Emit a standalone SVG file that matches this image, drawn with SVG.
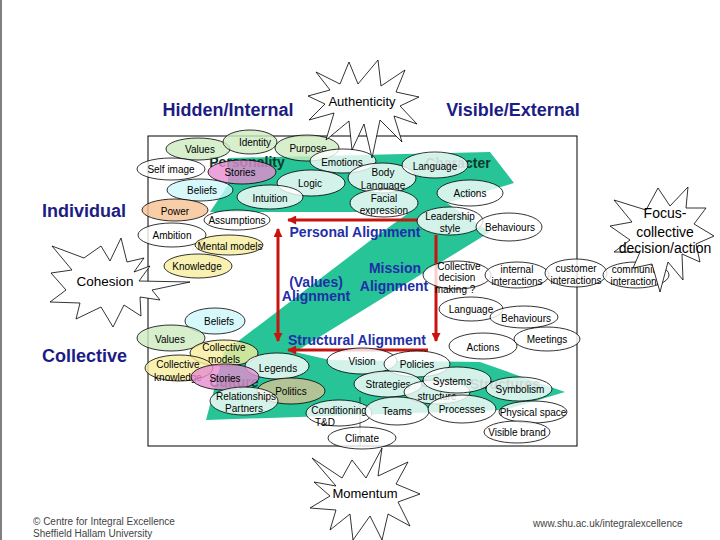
<svg xmlns="http://www.w3.org/2000/svg" width="720" height="540" viewBox="0 0 720 540">
<defs>
<style>
.e{stroke:#000;stroke-width:0.8;fill-opacity:0.8}
.w{fill:#fff}.g{fill:#cdebc0}.p{fill:#e68cd0}.c{fill:#cdf8fb}.o{fill:#f6c294}.y{fill:#f6ee9e}.t{fill:#d6c496}
.l{font-family:"Liberation Sans",Arial,sans-serif;font-size:10px;text-anchor:middle;fill:#000}
.h{font-family:"Liberation Sans",Arial,sans-serif;font-size:18px;font-weight:bold;fill:#1c1c84}
.a{font-family:"Liberation Sans",Arial,sans-serif;font-size:14px;font-weight:bold;fill:#1f2fa8;text-anchor:middle}
.s{fill:#fff;stroke:#000;stroke-width:0.8}
.st{font-family:"Liberation Sans",Arial,sans-serif;font-size:13px;text-anchor:middle;fill:#000}
.gh{font-family:"Liberation Sans",Arial,sans-serif;font-size:14px;font-weight:bold;fill:#0c3a2e;text-anchor:middle}
.red{stroke:#c8140f;stroke-width:3;fill:none}
.ft{font-family:"Liberation Sans",Arial,sans-serif;font-size:10px;fill:#444}
</style>
<marker id="ah" viewBox="0 0 10 10" refX="9" refY="5" markerWidth="3.6" markerHeight="3" orient="auto-start-reverse">
<path d="M0,0 L10,5 L0,10 Z" fill="#c8140f"/>
</marker>
</defs>
<rect width="720" height="540" fill="#fff"/>
<line x1="1" y1="0" x2="1" y2="540" stroke="#000" stroke-width="1"/>

<g id="band">
<polygon fill="#26c497" points="228,158 490,152 514,183 447,203 490,232 295,352 330,360 480,362 565,392 505,410 206,420 224,352 371,240 410,212 210,212 228,185"/>
</g>
<g id="ghost">
<text class="gh" x="247" y="167">Personality</text>
<text class="gh" x="458" y="168">Character</text>
<text class="gh" x="234" y="387">Culture</text>
<text class="gh" x="505" y="389">Structures</text>
</g>

<rect x="148" y="136" width="429" height="310" fill="none" stroke="#000" stroke-width="1"/>
<line x1="360" y1="397" x2="360" y2="446" stroke="#000" stroke-width="0.6"/>

<g id="headings">
<text class="h" x="228" y="116" text-anchor="middle">Hidden/Internal</text>
<text class="h" x="513" y="116" text-anchor="middle">Visible/External</text>
<text class="h" x="42" y="217">Individual</text>
<text class="h" x="42" y="362">Collective</text>
</g>

<g id="connectors">
<line class="red" x1="288" y1="220" x2="418" y2="220" marker-start="url(#ah)"/>
<line class="red" x1="278" y1="229" x2="278" y2="341" marker-start="url(#ah)" marker-end="url(#ah)"/>
<line class="red" x1="436" y1="235" x2="436" y2="341" marker-end="url(#ah)"/>
<line class="red" x1="288" y1="350" x2="428" y2="350" marker-start="url(#ah)"/>
</g>

<g id="alignment">
<text class="a" x="355" y="237">Personal Alignment</text>
<text class="a" x="316" y="287">(Values)</text>
<text class="a" x="316" y="301">Alignment</text>
<text class="a" x="395" y="273">Mission</text>
<text class="a" x="394" y="291">Alignment</text>
<text class="a" x="357" y="345">Structural Alignment</text>
</g>

<g id="n-values"><ellipse class="e g" cx="198" cy="149" rx="32" ry="11"/><text class="l" x="200" y="152.5">Values</text></g>
<g id="n-identity"><ellipse class="e g" cx="250" cy="142" rx="27" ry="12"/><text class="l" x="255" y="145.5">Identity</text></g>
<g id="n-purpose"><ellipse class="e g" cx="307" cy="148" rx="32" ry="13"/><text class="l" x="308" y="151.5">Purpose</text></g>
<g id="n-selfimage"><ellipse class="e w" cx="171" cy="169" rx="34" ry="11"/><text class="l" x="171" y="172.5">Self image</text></g>
<g id="n-stories"><ellipse class="e p" cx="242" cy="172" rx="34" ry="12"/><text class="l" x="240" y="175.5">Stories</text></g>
<g id="n-beliefs"><ellipse class="e c" cx="200" cy="190" rx="33" ry="11"/><text class="l" x="202" y="193.5">Beliefs</text></g>
<g id="n-emotions"><ellipse class="e w" cx="343" cy="161" rx="33" ry="12"/><text class="l" x="342" y="165.5">Emotions</text></g>
<g id="n-logic"><ellipse class="e w" cx="311" cy="183" rx="34" ry="13"/><text class="l" x="310" y="186.5">Logic</text></g>
<g id="n-intuition"><ellipse class="e w" cx="270" cy="197" rx="33" ry="12"/><text class="l" x="270" y="201.5">Intuition</text></g>
<g id="n-power"><ellipse class="e o" cx="175" cy="210" rx="33" ry="11"/><text class="l" x="175" y="214.5">Power</text></g>
<g id="n-assumptions"><ellipse class="e w" cx="237" cy="220" rx="33" ry="10"/><text class="l" x="237" y="223.5">Assumptions</text></g>
<g id="n-ambition"><ellipse class="e w" cx="172" cy="235" rx="34" ry="12"/><text class="l" x="172" y="238.5">Ambition</text></g>
<g id="n-mentalmodels"><ellipse class="e y" cx="229" cy="245" rx="34" ry="10"/><text class="l" x="230" y="249.5">Mental models</text></g>
<g id="n-knowledge"><ellipse class="e y" cx="198" cy="266" rx="34" ry="12"/><text class="l" x="197" y="269.5">Knowledge</text></g>

<g id="n-bodylanguage"><ellipse class="e w" cx="382" cy="178" rx="34" ry="15"/><text class="l" x="383" y="175.5">Body</text><text class="l" x="383" y="188.5">Language</text></g>
<g id="n-facial"><ellipse class="e w" cx="384" cy="203" rx="34" ry="14"/><text class="l" x="384" y="201.5">Facial</text><text class="l" x="384" y="213.5">expression</text></g>
<g id="n-language"><ellipse class="e w" cx="435" cy="165" rx="33" ry="13"/><text class="l" x="435" y="169.5">Language</text></g>
<g id="n-actions"><ellipse class="e w" cx="470" cy="193" rx="33" ry="13"/><text class="l" x="470" y="196.5">Actions</text></g>
<g id="n-leadership"><ellipse class="e w" cx="450" cy="221" rx="33" ry="14"/><text class="l" x="450" y="219.5">Leadership</text><text class="l" x="450" y="231.5">style</text></g>
<g id="n-behaviours"><ellipse class="e w" cx="509" cy="227" rx="33" ry="14"/><text class="l" x="510" y="230.5">Behaviours</text></g>
<g id="n-collectivedecision"><ellipse class="e w" cx="457" cy="275" rx="34" ry="14"/><text class="l" x="459" y="269.5">Collective</text><text class="l" x="457" y="280.5">decision</text><text class="l" x="455" y="292.5">making ?</text></g>
<g id="n-internal"><ellipse class="e w" cx="517" cy="275" rx="32" ry="13"/><text class="l" x="517" y="272.5">internal</text><text class="l" x="517" y="284.5">interactions</text></g>
<g id="n-customer"><ellipse class="e w" cx="576" cy="273" rx="31" ry="14"/><text class="l" x="576" y="271.5">customer</text><text class="l" x="576" y="283.5">interactions</text></g>
<g id="n-community"><ellipse class="e w" cx="636" cy="275" rx="33" ry="13"/><text class="l" x="636" y="272.5">community</text><text class="l" x="636" y="284.5">interactions</text></g>
<g id="n-language2"><ellipse class="e w" cx="471" cy="309" rx="32" ry="12"/><text class="l" x="471" y="312.5">Language</text></g>
<g id="n-behaviours2"><ellipse class="e w" cx="524" cy="317" rx="34" ry="11"/><text class="l" x="526" y="321.5">Behaviours</text></g>
<g id="n-actions2"><ellipse class="e w" cx="483" cy="346" rx="34" ry="13"/><text class="l" x="483" y="350.5">Actions</text></g>
<g id="n-meetings"><ellipse class="e w" cx="547" cy="339" rx="33" ry="12"/><text class="l" x="547" y="342.5">Meetings</text></g>

<g id="n-beliefs2"><ellipse class="e c" cx="215" cy="321" rx="30" ry="13"/><text class="l" x="219" y="324.5">Beliefs</text></g>
<g id="n-values2"><ellipse class="e g" cx="171" cy="338" rx="34" ry="13"/><text class="l" x="170" y="342.5">Values</text></g>
<g id="n-collectivemodels"><ellipse class="e y" cx="224" cy="353" rx="34" ry="13"/><text class="l" x="224" y="350.5">Collective</text><text class="l" x="224" y="362.5">models</text></g>
<g id="n-collectiveknowledge"><ellipse class="e y" cx="179" cy="368" rx="34" ry="13"/><text class="l" x="178" y="367.5">Collective</text><text class="l" x="178" y="380.5">knowledge</text></g>
<g id="n-legends"><ellipse class="e w" cx="277" cy="366" rx="32" ry="13"/><text class="l" x="278" y="371.5">Legends</text></g>
<g id="n-stories2"><ellipse class="e p" cx="225" cy="377" rx="34" ry="13"/><text class="l" x="225" y="381.5">Stories</text></g>
<g id="n-politics"><ellipse class="e t" cx="291" cy="391" rx="34" ry="13"/><text class="l" x="291" y="394.5">Politics</text></g>
<g id="n-relationships"><ellipse class="e w" cx="244" cy="401" rx="34" ry="14"/><text class="l" x="246" y="399.5">Relationships</text><text class="l" x="244" y="411.5">Partners</text></g>
<g id="n-vision"><ellipse class="e w" cx="362" cy="361" rx="35" ry="13"/><text class="l" x="362" y="364.5">Vision</text></g>
<g id="n-policies"><ellipse class="e w" cx="417" cy="364" rx="33" ry="13"/><text class="l" x="417" y="367.5">Policies</text></g>
<g id="n-strategies"><ellipse class="e w" cx="388" cy="384" rx="34" ry="13"/><text class="l" x="388" y="387.5">Strategies</text></g>
<g id="n-structure"><text class="l" x="437" y="386.5">Comm.</text><ellipse class="e w" cx="437" cy="392" rx="33" ry="12"/><text class="l" x="437" y="399.5">structure</text></g>
<g id="n-systems"><ellipse class="e w" cx="457" cy="380" rx="34" ry="13"/><text class="l" x="452" y="384.5">Systems</text></g>
<g id="n-symbolism"><ellipse class="e w" cx="519" cy="389" rx="33" ry="12"/><text class="l" x="520" y="392.5">Symbolism</text></g>
<g id="n-conditioning"><ellipse class="e w" cx="339" cy="413" rx="33" ry="13"/><text class="l" x="339" y="413.5">Conditioning</text><text class="l" x="325" y="425.5">T&amp;D</text></g>
<g id="n-teams"><ellipse class="e w" cx="397" cy="411" rx="32" ry="14"/><text class="l" x="397" y="414.5">Teams</text></g>
<g id="n-processes"><ellipse class="e w" cx="462" cy="409" rx="34" ry="14"/><text class="l" x="462" y="412.5">Processes</text></g>
<g id="n-physical"><ellipse class="e w" cx="533" cy="412" rx="34" ry="11"/><text class="l" x="533" y="415.5">Physical space</text></g>
<g id="n-visiblebrand"><ellipse class="e w" cx="517" cy="432" rx="33" ry="11"/><text class="l" x="517" y="435.5">Visible brand</text></g>
<g id="n-climate"><ellipse class="e w" cx="362" cy="438" rx="34" ry="11"/><text class="l" x="362" y="441.5">Climate</text></g>

<g id="n-authenticity">
<polygon class="s" points="349,62 358,84 378,60 381,86 405,70 396,92 419,97 400,106 417,124 394,116 402,142 380,120 372,158 364,124 352,150 349,121 326,140 334,113 309,120 325,104 308,96 330,90 316,72 340,84"/>
<text class="st" x="362" y="105.5">Authenticity</text>
</g>
<g id="n-cohesion">
<polygon class="s" points="52,246 84,258 101,246 110,261 121,238 127,262 144,258 134,272 150,266 139,281 190,282 152,290 160,300 140,297 141,316 124,305 113,327 101,307 76,319 80,303 50,302 66,290 51,273 72,270"/>
<text class="st" x="105" y="286" style="font-size:13.5px">Cohesion</text>
</g>
<g id="n-focus">
<polygon class="s" points="614,200 646,210 658,188 670,206 688,187 686,208 706,208 694,224 714,236 696,244 700,262 682,254 683,280 668,262 660,292 652,264 633,268 640,252 614,252 630,240 610,226 632,222"/>
<text class="st" x="665" y="218" style="font-size:14px">Focus-</text>
<text class="st" x="665" y="237" style="font-size:14px">collective</text>
<text class="st" x="665" y="253" style="font-size:14px">decision/action</text>
</g>
<g id="n-momentum">
<polygon class="s" points="312,458 342,478 352,460 366,478 382,448 378,476 408,462 396,484 420,494 398,502 410,526 388,514 382,540 370,516 353,540 350,514 330,530 336,510 310,508 330,496 314,482 336,486"/>
<text class="st" x="365" y="498">Momentum</text>
</g>

<g id="footer">
<text class="ft" x="33" y="525">© Centre for Integral Excellence</text>
<text class="ft" x="33" y="537">Sheffield Hallam University</text>
<text class="ft" x="533" y="527">www.shu.ac.uk/integralexcellence</text>
</g>
</svg>
